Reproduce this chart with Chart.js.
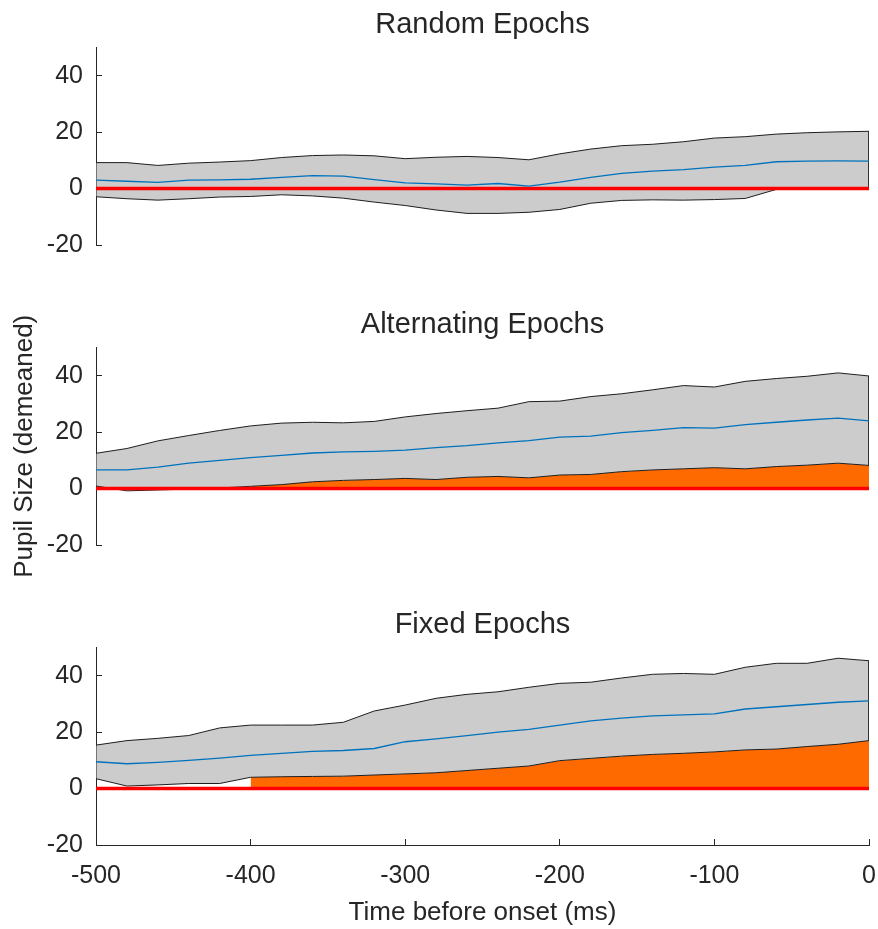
<!DOCTYPE html>
<html lang="en">
<head>
<meta charset="UTF-8" />
<title>Pupil Size Before Onset</title>
<script src="https://cdn.jsdelivr.net/npm/chart.js"></script>
<style>
  body { margin: 0; background: #fff; }
  .panel { position: absolute; left: 0; }
</style>
</head>
<body>
<canvas id="randomChart" class="panel" width="878" height="300" style="top:0"></canvas>
<canvas id="altChart" class="panel" width="878" height="300" style="top:300px"></canvas>
<canvas id="fixedChart" class="panel" width="878" height="329" style="top:600px"></canvas>

<script>
  // time points (ms before onset)
  const times = [-500, -480, -460, -440, -420, -400, -380, -360, -340, -320, -300, -280, -260,
                 -240, -220, -200, -180, -160, -140, -120, -100, -80, -60, -40, -20, 0];
  const xTicks = [-500, -400, -300, -200, -100, 0];
  const yTicks = [-20, 0, 20, 40];

  // Random epochs
  const randomUpper = [9.2, 9.2, 8.2, 9.0, 9.4, 9.9, 11.0, 11.7, 11.9, 11.6, 10.6, 11.1, 11.4,
                       11.0, 10.2, 12.3, 14.0, 15.2, 15.7, 16.6, 17.9, 18.4, 19.3, 19.8, 20.1, 20.3];
  const randomMean = [3.0, 2.6, 2.2, 3.0, 3.1, 3.3, 4.0, 4.6, 4.4, 3.2, 2.0, 1.7, 1.2,
                      1.8, 0.9, 2.3, 4.0, 5.4, 6.2, 6.7, 7.6, 8.2, 9.5, 9.7, 9.8, 9.7];
  const randomLower = [-2.9, -3.6, -4.1, -3.6, -3.0, -2.8, -2.2, -2.6, -3.4, -4.8, -6.0, -7.6, -8.8,
                       -8.8, -8.4, -7.4, -5.2, -4.2, -4.0, -4.1, -3.9, -3.5, -0.3, 0.1, 0.2, 0.2];

  // Alternating epochs
  const altUpper = [12.5, 14.2, 16.9, 18.8, 20.6, 22.2, 23.2, 23.5, 23.3, 23.8, 25.4, 26.6, 27.6,
                    28.5, 30.8, 31.0, 32.6, 33.6, 35.0, 36.5, 36.0, 38.0, 39.0, 39.8, 41.0, 39.9];
  const altMean = [6.6, 6.6, 7.6, 9.0, 10.0, 11.0, 11.8, 12.6, 13.0, 13.2, 13.6, 14.5, 15.2,
                   16.2, 17.0, 18.2, 18.6, 19.8, 20.6, 21.6, 21.4, 22.7, 23.5, 24.3, 25.0, 24.0];
  const altLower = [0.9, -0.8, -0.5, -0.2, 0.2, 0.8, 1.4, 2.4, 2.9, 3.2, 3.6, 3.2, 4.0,
                    4.3, 3.8, 4.8, 5.0, 6.0, 6.6, 7.0, 7.4, 7.0, 7.8, 8.3, 9.0, 8.2];

  // Fixed epochs
  const fixedUpper = [15.4, 17.0, 17.8, 18.8, 21.5, 22.5, 22.5, 22.5, 23.5, 27.5, 29.6, 32.0, 33.4,
                      34.3, 35.9, 37.3, 37.7, 39.2, 40.5, 40.8, 40.5, 43.0, 44.4, 44.4, 46.2, 45.3];
  const fixedMean = [9.5, 8.8, 9.3, 10.0, 10.8, 11.8, 12.5, 13.2, 13.5, 14.2, 16.6, 17.6, 18.8,
                     20.0, 21.0, 22.5, 24.0, 25.0, 25.8, 26.1, 26.5, 28.2, 29.0, 29.8, 30.6, 31.1];
  const fixedLower = [3.5, 0.9, 1.3, 1.8, 1.8, 4.0, 4.2, 4.3, 4.4, 4.8, 5.2, 5.6, 6.4,
                      7.2, 8.0, 9.9, 10.7, 11.5, 12.1, 12.5, 13.0, 13.7, 14.0, 14.9, 15.7, 17.0];

  // start of the significant window per condition (null = none)
  const sigStart = { random: null, alternating: -400, fixed: -405 };

  const FONT = "'Liberation Sans', Arial, Helvetica, sans-serif";
  const TEXT = '#262626';

  function pts(vals) {
    return times.map((t, i) => ({ x: t, y: vals[i] }));
  }

  function makePanel(id, title, upper, mean, lower, start, showX, showYTitle) {
    // closed outline of the confidence band
    const band = pts(upper).concat(pts(lower).reverse());
    band.push(band[0]);
    const sig = start === null ? [] : pts(lower).filter(p => p.x >= start);

    new Chart(document.getElementById(id), {
      type: 'line',
      data: {
        datasets: [
          { data: sig, fill: 'origin', backgroundColor: '#FF6A00', borderWidth: 0, order: 6 },
          { data: band, fill: 'shape', backgroundColor: '#CCCCCC', borderColor: '#1e1e1e', borderWidth: 1, order: 5 },
          { data: pts(times.map(() => 0)), borderColor: '#FF0000', borderWidth: 3.5, order: 3 },
          { data: pts(mean), borderColor: '#0072BD', borderWidth: 1.3, order: 2 }
        ]
      },
      options: {
        animation: false,
        responsive: false,
        devicePixelRatio: 1,
        layout: { padding: { top: 0, right: 9, bottom: showX ? 0 : 55, left: 0 } },
        elements: { point: { radius: 0 }, line: { tension: 0 } },
        plugins: {
          legend: { display: false },
          tooltip: { enabled: false },
          title: {
            display: true,
            fullSize: false,  // centre over the plot area only
            text: title,
            color: TEXT,
            font: { family: FONT, size: 29, weight: 'normal' },
            padding: { top: 8, bottom: 4.7 }
          }
        },
        scales: {
          x: {
            type: 'linear',
            min: -500,
            max: 0,
            display: showX,
            afterBuildTicks: s => { s.ticks = xTicks.map(v => ({ value: v })); },
            afterFit: s => {
              s.height = showX ? 84 : 0;
              s.paddingLeft = 0;
              s.paddingRight = 0;
            },
            grid: { drawOnChartArea: false, tickLength: -6, color: TEXT },
            border: { color: TEXT, width: 1 },
            ticks: { color: TEXT, font: { family: FONT, size: 25 }, padding: 22, maxRotation: 0 },
            title: {
              display: true,
              text: 'Time before onset (ms)',
              color: TEXT,
              font: { family: FONT, size: 26 },
              padding: { top: 0, bottom: 1 }
            }
          },
          y: {
            min: -20,
            max: 50,
            afterBuildTicks: s => { s.ticks = yTicks.map(v => ({ value: v })); },
            afterFit: s => { s.width = 96; },
            grid: { drawOnChartArea: false, tickLength: -6, color: TEXT },
            border: { color: TEXT, width: 1 },
            ticks: { color: TEXT, font: { family: FONT, size: 25 }, padding: 19 },
            title: {
              display: showYTitle,
              text: 'Pupil Size (demeaned)',
              color: TEXT,
              font: { family: FONT, size: 26 },
              padding: { top: 9, bottom: 0 }
            }
          }
        }
      }
    });
  }

  makePanel('randomChart', 'Random Epochs', randomUpper, randomMean, randomLower, sigStart.random, false, false);
  makePanel('altChart', 'Alternating Epochs', altUpper, altMean, altLower, sigStart.alternating, false, true);
  makePanel('fixedChart', 'Fixed Epochs', fixedUpper, fixedMean, fixedLower, sigStart.fixed, true, false);
</script>
</body>
</html>
